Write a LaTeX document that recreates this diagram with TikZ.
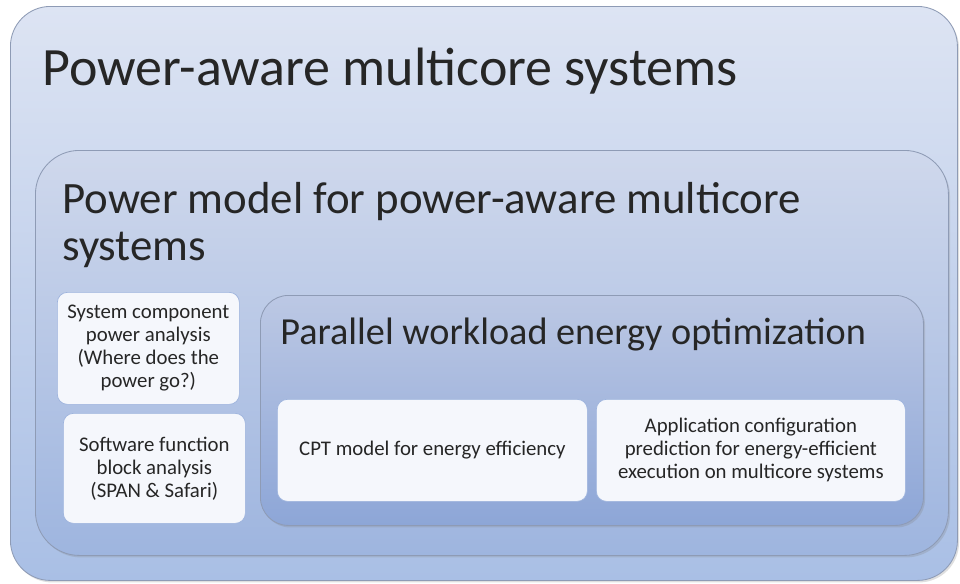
\documentclass[tikz,border=0pt]{standalone}
\usepackage{fontspec}
\setmainfont{Carlito}
\usepackage{xcolor}
\usetikzlibrary{positioning,shadows}
\definecolor{txt}{HTML}{262626}
\definecolor{edge}{HTML}{8E9BB5}
\definecolor{outertop}{HTML}{DDE4F3}
\definecolor{outerbot}{HTML}{A9BFE5}
\definecolor{midtop}{HTML}{CFD8EC}
\definecolor{midbot}{HTML}{9EB5DF}
\definecolor{intop}{HTML}{BCC8E4}
\definecolor{inbot}{HTML}{8DA6D7}
\definecolor{leaffill}{HTML}{F5F7FC}
\definecolor{leafedge}{HTML}{9DB3DD}

\begin{document}
\begin{tikzpicture}[
    every node/.style={font=\fontsize{14.8}{16.4}\selectfont,text=txt},
    panel/.style={draw=edge,line width=0.6pt,anchor=north west,inner sep=0pt,
                  drop shadow={shadow xshift=0.04cm,shadow yshift=-0.05cm,opacity=0.25}},
    leaf/.style={draw=leafedge,line width=0.5pt,fill=leaffill,rounded corners=0.25cm,
                 anchor=north west,align=center,inner sep=0pt},
    head/.style={anchor=base west,inner sep=0pt,align=left},
  ]
  \useasboundingbox[fill=white] (0,0) rectangle (24,-14.575);

  % nested panels
  \node[panel,rounded corners=1cm,top color=outertop,bottom color=outerbot,
        minimum width=23.675cm,minimum height=14.35cm] (outer) at (0.25,-0.15) {};
  \node[panel,rounded corners=1.1cm,top color=midtop,bottom color=midbot,
        minimum width=22.825cm,minimum height=10.125cm] (model) at (0.875,-3.75) {};
  \node[panel,rounded corners=0.7cm,top color=intop,bottom color=inbot,
        minimum width=16.575cm,minimum height=5.75cm] (opt) at (6.5,-7.375) {};

  % headings
  \node[head,font=\fontsize{38.4}{46}\selectfont] (tOuter) at (1.05,-2.125)
    {Power-aware multicore systems};
  \node[head,font=\fontsize{31.9}{33.4}\selectfont,anchor=north west] (tModel) at (1.55,-4.55)
    {Power model for power-aware multicore\\systems};
  \node[head,font=\fontsize{27.2}{32}\selectfont] (tOpt) at (7.0,-8.6)
    {Parallel workload energy optimization};

  % leaf boxes
  \node[leaf,minimum width=4.55cm,minimum height=2.8cm] (comp) at (1.425,-7.3)
    {System component\\power analysis\\(Where does the\\power go?)};
  \node[leaf,minimum width=4.55cm,minimum height=2.75cm] (soft) at (1.575,-10.325)
    {Software function\\block analysis\\(SPAN \& Safari)};
  \node[leaf,minimum width=7.75cm,minimum height=2.55cm] (cpt) at (6.925,-9.975)
    {CPT model for energy efficiency};
  \node[leaf,minimum width=7.725cm,minimum height=2.55cm] (app) at (14.9,-9.975)
    {Application configuration\\prediction for energy-efficient\\execution on multicore systems};
\end{tikzpicture}
\end{document}
